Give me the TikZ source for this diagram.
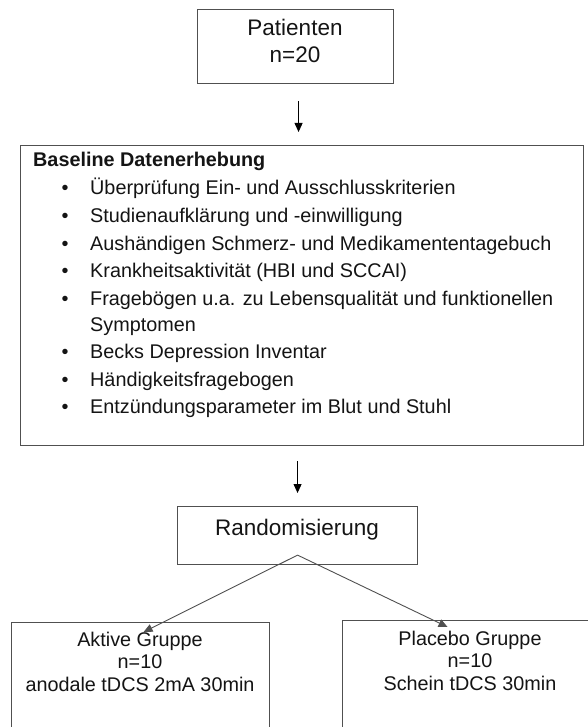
\documentclass[tikz,border=0pt]{standalone}
\usepackage{fontspec}
\setmainfont{Liberation Sans}
\usetikzlibrary{arrows.meta}
\definecolor{boxgray}{RGB}{80,80,80}
\definecolor{ink}{RGB}{20,20,20}
\begin{document}
\begin{tikzpicture}[x=1pt,y=-1pt,
  box/.style={draw=boxgray, line width=1.1pt, rectangle, inner sep=0pt, anchor=north west},
  body/.style={font=\fontsize{19.8}{24}\selectfont, inner sep=0pt, text=ink},
  large/.style={font=\fontsize{22.5}{27}\selectfont, inner sep=0pt, text=ink},
  arr/.style={draw=black, line width=0.9pt, -{Triangle[length=9pt,width=8pt]}},
  split/.style={draw=boxgray, line width=0.9pt, -{Triangle[length=9pt,width=8pt]}},
  item/.style={body, anchor=base west},
  dot/.style={body, anchor=base},
]
\clip (0,0) rectangle (588,727);
\fill[white] (0,0) rectangle (588,727);

% boxes
\node[box, minimum width=196pt, minimum height=74pt] (pat) at (197,9) {};
\node[box, minimum width=563pt, minimum height=300pt] (base) at (20,145) {};
\node[box, minimum width=240pt, minimum height=58pt] (rand) at (177,506) {};
\node[box, minimum width=258pt, minimum height=130pt] (aktiv) at (11,622) {};
\node[box, minimum width=256pt, minimum height=130pt] (plac) at (342,620) {};

% top box text
\node[large, anchor=base] (patT) at (295,36) {Patienten};
\node[large, anchor=base] (patN) at (295,63) {n=20};

% baseline assessment list
\node[body, anchor=base west, font=\fontsize{19.8}{24}\selectfont\bfseries] (bTitle) at (33,167) {Baseline Datenerhebung};
\foreach \y/\t [count=\i] in {
  195/{Überprüfung Ein- und Ausschlusskriterien},
  222.6/{Studienaufklärung und -einwilligung},
  250.2/{Aushändigen Schmerz- und Medikamententagebuch},
  277.8/{Krankheitsaktivität (HBI und SCCAI)},
  305.4/{Fragebögen u.a. zu Lebensqualität und funktionellen},
  358/{Becks Depression Inventar},
  386/{Händigkeitsfragebogen},
  413/{Entzündungsparameter im Blut und Stuhl}}{
  \node[dot] (bul\i) at (65,\y) {•};
  \node[item] (it\i) at (90,\y) {\t};
}
\node[item] (it5b) at (90,331) {Symptomen};

% randomisation
\node[large, anchor=base] (randT) at (297,535) {Randomisierung};

% groups
\node[body, anchor=base] (aT1) at (140,646.7) {Aktive Gruppe};
\node[body, anchor=base] (aT2) at (140,668) {n=10};
\node[body, anchor=base] (aT3) at (140,691) {anodale tDCS 2mA 30min};
\node[body, anchor=base] (pT1) at (470,645) {Placebo Gruppe};
\node[body, anchor=base] (pT2) at (470,667) {n=10};
\node[body, anchor=base] (pT3) at (470,690) {Schein tDCS 30min};

% connectors
\draw[arr, shorten <=17pt, shorten >=13pt] ([xshift=3pt]pat.south) -- ([xshift=3pt]pat.south |- base.north);
\draw[arr, shorten <=15pt, shorten >=13pt] (rand.north |- base.south) -- (rand.north);
\coordinate (fork) at ([yshift=10pt]rand.south);
\draw[split] (fork) -- ([xshift=3pt,yshift=-10pt]aktiv.north);
\draw[split] (fork) -- ([xshift=-23pt,yshift=-7pt]plac.north);
\end{tikzpicture}
\end{document}
